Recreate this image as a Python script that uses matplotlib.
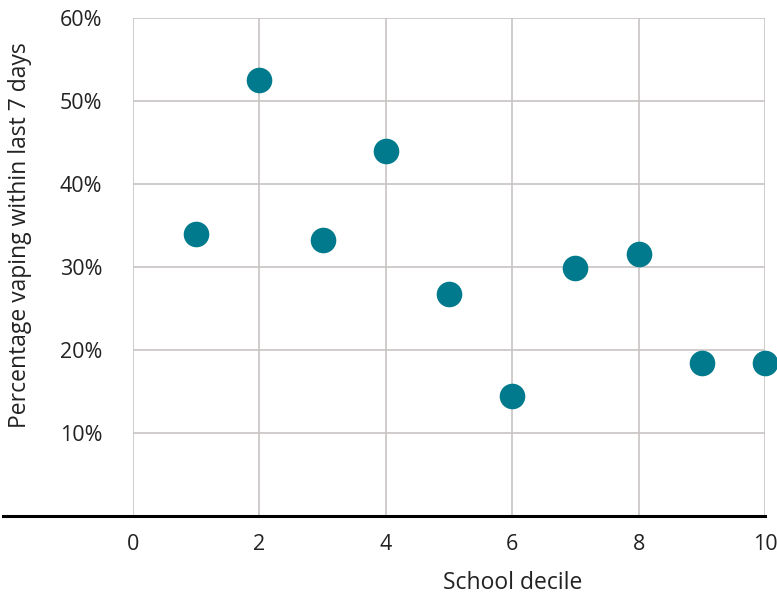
import matplotlib.pyplot as plt
from matplotlib.ticker import FuncFormatter

# School decile vs share of students vaping in the last 7 days
deciles = [1, 2, 3, 4, 5, 6, 7, 8, 9, 10]
vaping_pct = [34.0, 52.5, 33.3, 44.0, 26.7, 14.5, 29.9, 31.6, 18.4, 18.4]

x_ticks = [0, 2, 4, 6, 8, 10]
y_ticks = [10, 20, 30, 40, 50, 60]

plt.rcParams['font.family'] = ['Open Sans', 'DejaVu Sans']

fig = plt.figure(figsize=(7.77, 5.98), dpi=100)
ax = fig.add_axes([133 / 777, 82 / 598, 632 / 777, 498 / 598])

ax.scatter(deciles, vaping_pct, s=340, color='#007A8C', zorder=3,
           linewidths=0, clip_on=False)

ax.set_xlim(0, 10)
ax.set_ylim(0, 60)
ax.set_xticks(x_ticks)
ax.set_yticks(y_ticks)
ax.yaxis.set_major_formatter(FuncFormatter(lambda v, _: f"{v:.0f}%"))

ax.grid(True, color='#C8C4C4', linewidth=1.2)
ax.set_axisbelow(True)
for side in ['top', 'right', 'left', 'bottom']:
    ax.spines[side].set_visible(False)

ax.tick_params(axis='both', length=0, labelsize=15.5, colors='#222222')
ax.tick_params(axis='y', pad=22)
ax.tick_params(axis='x', pad=13)

# black baseline running out to the left edge
ax.plot([-0.205, 1.0], [0, 0], transform=ax.get_yaxis_transform(),
        color='black', linewidth=2.2, clip_on=False, zorder=4)

ax.set_xlabel("School decile", fontsize=16.5, color='#222222')
ax.xaxis.set_label_coords(0.601, -0.135)
ax.set_ylabel("Percentage vaping within last 7 days", fontsize=16.5, color='#222222')
ax.yaxis.set_label_coords(-0.179, 0.564)
ax.xaxis.label.set_va('center')
ax.yaxis.label.set_va('center')

fig.savefig("out.png", dpi=100)
